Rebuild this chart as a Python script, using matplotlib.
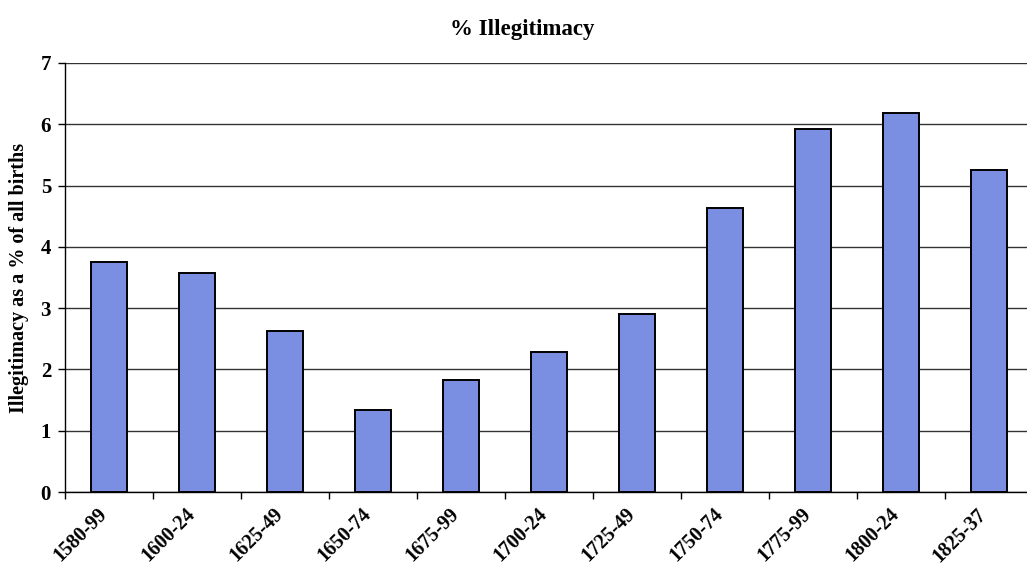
import numpy as np
import matplotlib
matplotlib.use("Agg")
import matplotlib.pyplot as plt

periods = ["1580-99", "1600-24", "1625-49", "1650-74", "1675-99", "1700-24",
           "1725-49", "1750-74", "1775-99", "1800-24", "1825-37"]
illegit_pct = [3.76, 3.57, 2.62, 1.33, 1.83, 2.29, 2.90, 4.63, 5.92, 6.18, 5.25]

plt.rcParams['font.family'] = ['Liberation Serif', 'DejaVu Serif']
plt.rcParams['font.weight'] = 'bold'

fig = plt.figure(figsize=(10.27, 5.77), dpi=100)
# plot area runs slightly past the right edge of the figure
ax = fig.add_axes([65/1027, 85/577, 968/1027, 429/577])

x = np.arange(len(periods))
ax.bar(x, illegit_pct, width=0.4, color='#7b8fe2', edgecolor='black',
       linewidth=1.4, zorder=3)

ax.set_xlim(-0.5, len(periods) - 0.5)
ax.set_ylim(0, 7)
ax.set_yticks(range(0, 8))
ax.yaxis.grid(True, color='#333333', linewidth=1.0, zorder=0)

# ticks between categories; rotated labels end just left of each bar centre
ax.set_xticks(np.arange(len(periods) + 1) - 0.5)
ax.set_xticklabels([])
ax.set_xticks(x - 0.14, minor=True)
ax.set_xticklabels(periods, minor=True, rotation=45, ha='right',
                   rotation_mode='anchor', fontsize=14.5, fontweight='bold')
ax.tick_params(axis='x', which='minor', length=0, pad=9)
ax.tick_params(axis='x', which='major', length=5, direction='out', width=1)
ax.tick_params(axis='y', length=5, direction='out', width=1, labelsize=15,
               pad=5)
for lbl in ax.get_yticklabels():
    lbl.set_fontweight('bold')

for s in ['top', 'right']:
    ax.spines[s].set_visible(False)
ax.spines['left'].set_linewidth(1.0)
ax.spines['bottom'].set_linewidth(1.0)

ax.set_ylabel("Illegitimacy as a % of all births", fontsize=14.5,
              fontweight='bold', labelpad=8)
ax.set_title("% Illegitimacy", fontsize=16.5, fontweight='bold', pad=20,
             x=0.472)

fig.savefig("out.png", dpi=100)
